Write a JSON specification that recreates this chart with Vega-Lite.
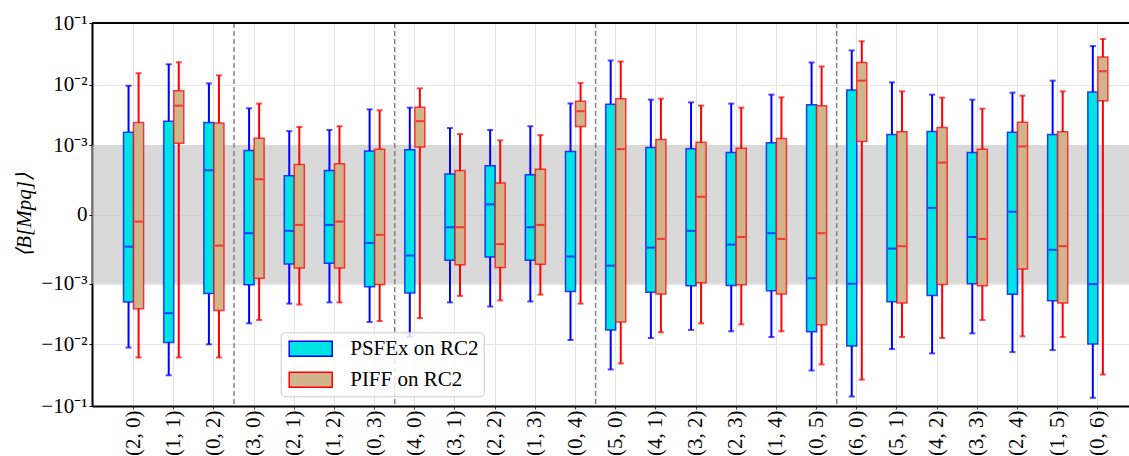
{
  "$schema": "https://vega.github.io/schema/vega-lite/v6.json",
  "autosize": {"type": "none"},
  "padding": {"left": 92, "top": 23, "right": 0, "bottom": 50},
  "width": 1037,
  "height": 383,
  "background": "white",
  "config": {
    "font": "Liberation Serif",
    "view": {"stroke": null},
    "axisX": {
      "labelFont": "Liberation Serif", "labelFontSize": 21, "labelColor": "black",
      "labelAngle": -90, "labelPadding": 1,
      "domainColor": "black", "domainWidth": 2,
      "tickColor": "#444", "tickSize": 3,
      "grid": true, "gridColor": "#e3e3e3", "gridWidth": 1,
      "bandPosition": 0.5, "title": null
    },
    "axisY": {
      "labelFont": "Liberation Serif", "labelFontSize": 21, "labelColor": "black",
      "labelPadding": 2,
      "domainColor": "black", "domainWidth": 2,
      "tickColor": "black", "tickSize": 3,
      "grid": true, "gridColor": "#e6e6e6", "gridWidth": 1,
      "titleFont": "Liberation Serif", "titleFontSize": 21, "titleFontStyle": "italic",
      "titleFontWeight": "normal", "titleColor": "black", "titlePadding": 6
    },
    "legend": {
      "labelFont": "Liberation Serif", "labelFontSize": 21, "labelColor": "black",
      "fillColor": "rgba(255,255,255,0.8)", "strokeColor": "#cccccc", "cornerRadius": 4,
      "padding": 5, "symbolType": "M-2,-0.7H2V0.7H-2Z", "symbolSize": 462,
      "symbolOffset": 13.5,
      "symbolStrokeWidth": 1.5, "rowPadding": 8, "labelOffset": 28
    }
  },
  "datasets": {
    "stats": [
      {"c": "(2, 0)", "m": "PSFEx on RC2", "lo": -0.0114, "q1": -0.00204, "med": -0.00019, "q3": 0.00167, "hi": 0.0097},
      {"c": "(2, 0)", "m": "PIFF on RC2", "lo": -0.0165, "q1": -0.00265, "med": -0.000025, "q3": 0.00243, "hi": 0.0155},
      {"c": "(1, 1)", "m": "PSFEx on RC2", "lo": -0.032, "q1": -0.0094, "med": -0.00313, "q3": 0.00255, "hi": 0.0216},
      {"c": "(1, 1)", "m": "PIFF on RC2", "lo": -0.0165, "q1": 0.00108, "med": 0.0046, "q3": 0.00807, "hi": 0.0233},
      {"c": "(0, 2)", "m": "PSFEx on RC2", "lo": -0.0101, "q1": -0.00146, "med": 0.000344, "q3": 0.00243, "hi": 0.0106},
      {"c": "(0, 2)", "m": "PIFF on RC2", "lo": -0.0165, "q1": -0.00283, "med": -0.00018, "q3": 0.00237, "hi": 0.0143},
      {"c": "(3, 0)", "m": "PSFEx on RC2", "lo": -0.0046, "q1": -0.00104, "med": -0.000083, "q3": 0.00081, "hi": 0.00416},
      {"c": "(3, 0)", "m": "PIFF on RC2", "lo": -0.00406, "q1": -0.0008, "med": 0.000223, "q3": 0.00132, "hi": 0.00496},
      {"c": "(2, 1)", "m": "PSFEx on RC2", "lo": -0.00217, "q1": -0.000437, "med": -0.000069, "q3": 0.000267, "hi": 0.00174},
      {"c": "(2, 1)", "m": "PIFF on RC2", "lo": -0.00225, "q1": -0.00052, "med": -0.000039, "q3": 0.000446, "hi": 0.00204},
      {"c": "(1, 2)", "m": "PSFEx on RC2", "lo": -0.00207, "q1": -0.00042, "med": -0.000039, "q3": 0.00034, "hi": 0.00182},
      {"c": "(1, 2)", "m": "PIFF on RC2", "lo": -0.00207, "q1": -0.00052, "med": -0.000025, "q3": 0.00046, "hi": 0.0021},
      {"c": "(0, 3)", "m": "PSFEx on RC2", "lo": -0.00438, "q1": -0.00112, "med": -0.000156, "q3": 0.00079, "hi": 0.004},
      {"c": "(0, 3)", "m": "PIFF on RC2", "lo": -0.00422, "q1": -0.00103, "med": -0.000093, "q3": 0.00085, "hi": 0.00386},
      {"c": "(4, 0)", "m": "PSFEx on RC2", "lo": -0.00757, "q1": -0.00144, "med": -0.000297, "q3": 0.00083, "hi": 0.00427},
      {"c": "(4, 0)", "m": "PIFF on RC2", "lo": -0.00377, "q1": 0.000927, "med": 0.00255, "q3": 0.00432, "hi": 0.0088},
      {"c": "(3, 1)", "m": "PSFEx on RC2", "lo": -0.00207, "q1": -0.00037, "med": -0.00005, "q3": 0.00029, "hi": 0.00196},
      {"c": "(3, 1)", "m": "PIFF on RC2", "lo": -0.00161, "q1": -0.00045, "med": -0.00005, "q3": 0.00034, "hi": 0.00155},
      {"c": "(2, 2)", "m": "PSFEx on RC2", "lo": -0.00243, "q1": -0.000316, "med": 0.000038, "q3": 0.00042, "hi": 0.00182},
      {"c": "(2, 2)", "m": "PIFF on RC2", "lo": -0.00192, "q1": -0.00051, "med": -0.000166, "q3": 0.000184, "hi": 0.00121},
      {"c": "(1, 3)", "m": "PSFEx on RC2", "lo": -0.002, "q1": -0.00037, "med": -0.00005, "q3": 0.00028, "hi": 0.0021},
      {"c": "(1, 3)", "m": "PIFF on RC2", "lo": -0.00153, "q1": -0.00044, "med": -0.000039, "q3": 0.00036, "hi": 0.00149},
      {"c": "(0, 4)", "m": "PSFEx on RC2", "lo": -0.0086, "q1": -0.00135, "med": -0.00031, "q3": 0.00077, "hi": 0.005},
      {"c": "(0, 4)", "m": "PIFF on RC2", "lo": -0.00217, "q1": 0.00207, "med": 0.00372, "q3": 0.00541, "hi": 0.0108},
      {"c": "(5, 0)", "m": "PSFEx on RC2", "lo": -0.0258, "q1": -0.0059, "med": -0.00047, "q3": 0.00483, "hi": 0.0249},
      {"c": "(5, 0)", "m": "PIFF on RC2", "lo": -0.0206, "q1": -0.00438, "med": 0.00085, "q3": 0.00598, "hi": 0.0239},
      {"c": "(4, 1)", "m": "PSFEx on RC2", "lo": -0.00798, "q1": -0.0014, "med": -0.0002, "q3": 0.00091, "hi": 0.00576},
      {"c": "(4, 1)", "m": "PIFF on RC2", "lo": -0.00645, "q1": -0.00149, "med": -0.000122, "q3": 0.00125, "hi": 0.00598},
      {"c": "(3, 2)", "m": "PSFEx on RC2", "lo": -0.0059, "q1": -0.00108, "med": -0.000069, "q3": 0.000865, "hi": 0.0052},
      {"c": "(3, 2)", "m": "PIFF on RC2", "lo": -0.0046, "q1": -0.00096, "med": 0.000077, "q3": 0.00112, "hi": 0.0046},
      {"c": "(2, 3)", "m": "PSFEx on RC2", "lo": -0.0062, "q1": -0.00107, "med": -0.00017, "q3": 0.00074, "hi": 0.00496},
      {"c": "(2, 3)", "m": "PIFF on RC2", "lo": -0.00478, "q1": -0.00104, "med": -0.000108, "q3": 0.00088, "hi": 0.00427},
      {"c": "(1, 4)", "m": "PSFEx on RC2", "lo": -0.0077, "q1": -0.00132, "med": -0.000083, "q3": 0.0011, "hi": 0.00695},
      {"c": "(1, 4)", "m": "PIFF on RC2", "lo": -0.0062, "q1": -0.00149, "med": -0.000122, "q3": 0.0013, "hi": 0.00628},
      {"c": "(0, 5)", "m": "PSFEx on RC2", "lo": -0.0268, "q1": -0.00628, "med": -0.000797, "q3": 0.00478, "hi": 0.0231},
      {"c": "(0, 5)", "m": "PIFF on RC2", "lo": -0.0214, "q1": -0.00483, "med": -0.000083, "q3": 0.0046, "hi": 0.0199},
      {"c": "(6, 0)", "m": "PSFEx on RC2", "lo": -0.0703, "q1": -0.0108, "med": -0.000997, "q3": 0.0083, "hi": 0.0362},
      {"c": "(6, 0)", "m": "PIFF on RC2", "lo": -0.0376, "q1": 0.00116, "med": 0.01175, "q3": 0.0231, "hi": 0.0507},
      {"c": "(5, 1)", "m": "PSFEx on RC2", "lo": -0.01206, "q1": -0.00202, "med": -0.00021, "q3": 0.00153, "hi": 0.011},
      {"c": "(5, 1)", "m": "PIFF on RC2", "lo": -0.0077, "q1": -0.00212, "med": -0.000185, "q3": 0.00169, "hi": 0.00787},
      {"c": "(4, 2)", "m": "PSFEx on RC2", "lo": -0.01416, "q1": -0.00159, "med": 0.000023, "q3": 0.00172, "hi": 0.00695},
      {"c": "(4, 2)", "m": "PIFF on RC2", "lo": -0.00798, "q1": -0.00103, "med": 0.000485, "q3": 0.002, "hi": 0.00621},
      {"c": "(3, 3)", "m": "PSFEx on RC2", "lo": -0.0067, "q1": -0.001, "med": -0.000108, "q3": 0.00074, "hi": 0.00576},
      {"c": "(3, 3)", "m": "PIFF on RC2", "lo": -0.00406, "q1": -0.00108, "med": -0.000122, "q3": 0.00085, "hi": 0.00411},
      {"c": "(2, 4)", "m": "PSFEx on RC2", "lo": -0.0135, "q1": -0.00151, "med": 0.000009, "q3": 0.00167, "hi": 0.0075},
      {"c": "(2, 4)", "m": "PIFF on RC2", "lo": -0.0075, "q1": -0.00054, "med": 0.00095, "q3": 0.00246, "hi": 0.0067},
      {"c": "(1, 5)", "m": "PSFEx on RC2", "lo": -0.01253, "q1": -0.00194, "med": -0.000224, "q3": 0.00153, "hi": 0.01175},
      {"c": "(1, 5)", "m": "PIFF on RC2", "lo": -0.0077, "q1": -0.00212, "med": -0.000185, "q3": 0.00169, "hi": 0.00787},
      {"c": "(0, 6)", "m": "PSFEx on RC2", "lo": -0.0738, "q1": -0.01, "med": -0.00101, "q3": 0.0077, "hi": 0.0425},
      {"c": "(0, 6)", "m": "PIFF on RC2", "lo": -0.0311, "q1": 0.00555, "med": 0.01665, "q3": 0.0282, "hi": 0.0553}
    ],
    "orderBreaks": [{"c": "(3, 0)"}, {"c": "(4, 0)"}, {"c": "(5, 0)"}, {"c": "(6, 0)"}],
    "single": [{"lowBand": -0.001, "highBand": 0.001, "top": 0.1}]
  },
  "layer": [
    {
      "data": {"name": "single"},
      "mark": {"type": "rect", "color": "#c0c0c0", "opacity": 0.6},
      "encoding": {
        "y": {
          "field": "lowBand", "type": "quantitative",
          "scale": {"type": "symlog", "constant": 0.000083, "domain": [-0.1, 0.1], "nice": false, "zero": false},
          "axis": {
            "title": "⟨B[Mpq]⟩",
            "values": [-0.1, -0.01, -0.001, 0, 0.001, 0.01, 0.1],
            "labelExpr": "datum.value == 0 ? '0' : (datum.value > 0 ? '' : '−') + '10' + (abs(datum.value) > 0.05 ? '⁻¹' : abs(datum.value) > 0.005 ? '⁻²' : '⁻³')"
          }
        },
        "y2": {"field": "highBand"}
      }
    },
    {
      "encoding": {
        "x": {
          "field": "c", "type": "nominal", "sort": null,
          "scale": {
            "domain": ["(2, 0)", "(1, 1)", "(0, 2)", "(3, 0)", "(2, 1)", "(1, 2)", "(0, 3)", "(4, 0)", "(3, 1)", "(2, 2)", "(1, 3)", "(0, 4)", "(5, 0)", "(4, 1)", "(3, 2)", "(2, 3)", "(1, 4)", "(0, 5)", "(6, 0)", "(5, 1)", "(4, 2)", "(3, 3)", "(2, 4)", "(1, 5)", "(0, 6)"],
            "paddingInner": 0, "paddingOuter": 0.405, "align": 0.66
          }
        },
        "xOffset": {
          "field": "m", "type": "nominal",
          "scale": {"domain": ["PSFEx on RC2", "PIFF on RC2"], "paddingInner": 0, "paddingOuter": 1.51}
        }
      },
      "layer": [
        {
          "data": {"name": "orderBreaks"},
          "mark": {"type": "rule", "color": "#808080", "strokeWidth": 1.5, "strokeDash": [5, 3]},
          "encoding": {
            "x": {"field": "c", "type": "nominal", "bandPosition": 0},
            "xOffset": null
          }
        },
        {
          "data": {"name": "stats"},
          "mark": {"type": "rule", "strokeWidth": 2},
          "encoding": {
            "y": {"field": "lo", "type": "quantitative"},
            "y2": {"field": "hi"},
            "stroke": {"field": "m", "type": "nominal"}
          }
        },
        {
          "data": {"name": "stats"},
          "mark": {"type": "bar", "width": {"band": 1}, "strokeWidth": 1.5, "strokeOpacity": 0.75},
          "encoding": {
            "y": {"field": "q1", "type": "quantitative"},
            "y2": {"field": "q3"},
            "fill": {
              "field": "m", "type": "nominal",
              "scale": {"domain": ["PSFEx on RC2", "PIFF on RC2"], "range": ["#00e3e3", "#d2b48c"]},
              "legend": {"orient": "none", "legendX": 188.7, "legendY": 309.3, "title": null}
            },
            "stroke": {
              "field": "m", "type": "nominal",
              "scale": {"domain": ["PSFEx on RC2", "PIFF on RC2"], "range": ["#0000ff", "#ff0000"]},
              "legend": {"orient": "none", "legendX": 188.7, "legendY": 309.3, "title": null}
            }
          }
        },
        {
          "data": {"name": "stats"},
          "mark": {"type": "tick", "size": 8, "thickness": 2},
          "encoding": {
            "y": {"field": "med", "type": "quantitative"},
            "color": {"field": "m", "type": "nominal", "scale": {"domain": ["PSFEx on RC2", "PIFF on RC2"], "range": ["#0000ff", "#ff0000"]}, "legend": null}
          }
        },
        {
          "data": {"name": "stats"},
          "mark": {"type": "tick", "size": 6, "thickness": 2},
          "encoding": {
            "y": {"field": "lo", "type": "quantitative"},
            "color": {"field": "m", "type": "nominal", "legend": null}
          }
        },
        {
          "data": {"name": "stats"},
          "mark": {"type": "tick", "size": 6, "thickness": 2},
          "encoding": {
            "y": {"field": "hi", "type": "quantitative"},
            "color": {"field": "m", "type": "nominal", "legend": null}
          }
        }
      ]
    },
    {
      "data": {"name": "single"},
      "mark": {"type": "rule", "color": "black", "strokeWidth": 2},
      "encoding": {"y": {"field": "top", "type": "quantitative"}}
    }
  ]
}
